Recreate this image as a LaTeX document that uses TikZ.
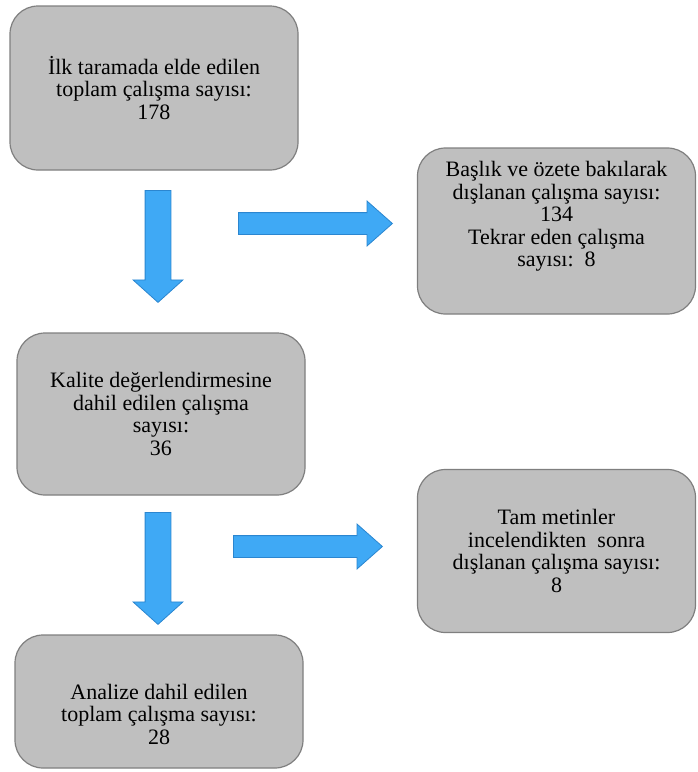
\documentclass[tikz,border=0pt]{standalone}
\usepackage{fontspec}
\setmainfont{Liberation Serif}
\usetikzlibrary{positioning,shapes.arrows}
\definecolor{boxgray}{HTML}{BFBFBF}
\definecolor{boxline}{HTML}{7F7F7F}
\definecolor{arrowblue}{HTML}{3FA9F5}
\definecolor{arrowline}{HTML}{2B86D0}
\tikzset{
    % grey step box
    stepbox/.style = {draw=boxline, fill=boxgray, line width=1.2pt, rounded corners=28pt, align=center, inner sep=0pt, font=\fontsize{22}{22.5}\selectfont, minimum width=288pt},
    % blue block arrows
    blockarrow/.style = {single arrow, draw=arrowline, fill=arrowblue, line width=0.8pt, text height=0pt, text depth=0pt, single arrow head indent=0pt, anchor=tail},
    downarrow/.style = {blockarrow, inner sep=12.5pt, single arrow head extend=12pt, single arrow tip angle=96, minimum height=112pt, shape border rotate=270},
    rightarrow/.style = {blockarrow, inner sep=10.5pt, single arrow head extend=11.5pt, single arrow tip angle=83}
}

\begin{document}
\begin{tikzpicture}[x=1pt, y=-1pt]
    \useasboundingbox (0,0) rectangle (697,772);

    \node[stepbox, minimum height=164pt] (ilk) at (154,88) {İlk taramada elde edilen\\toplam çalışma sayısı:\\178};
    \node[stepbox, minimum width=278pt, minimum height=166pt, text depth=34pt] (baslik) at (556.5,231) {Başlık ve özete bakılarak\\dışlanan çalışma sayısı:\\134\\Tekrar eden çalışma\\sayısı:~~8};
    \node[stepbox, minimum height=162pt] (kalite) at (161,414) {Kalite değerlendirmesine\\dahil edilen çalışma\\sayısı:\\36};
    \node[stepbox, minimum width=278pt, minimum height=163pt] (tam) at (556.5,551) {Tam metinler\\incelendikten~~sonra\\dışlanan çalışma sayısı:\\8};
    \node[stepbox, minimum height=133pt, text height=86pt] (analiz) at (159,701.5) {Analize dahil edilen\\toplam çalışma sayısı:\\28};

    \node[downarrow] (ok1) at (158,190) {};
    \node[rightarrow, minimum height=154pt] (ok2) at (238,223.5) {};
    \node[downarrow] (ok3) at (158,512) {};
    \node[rightarrow, minimum height=149pt] (ok4) at (233,546.5) {};
\end{tikzpicture}
\end{document}
